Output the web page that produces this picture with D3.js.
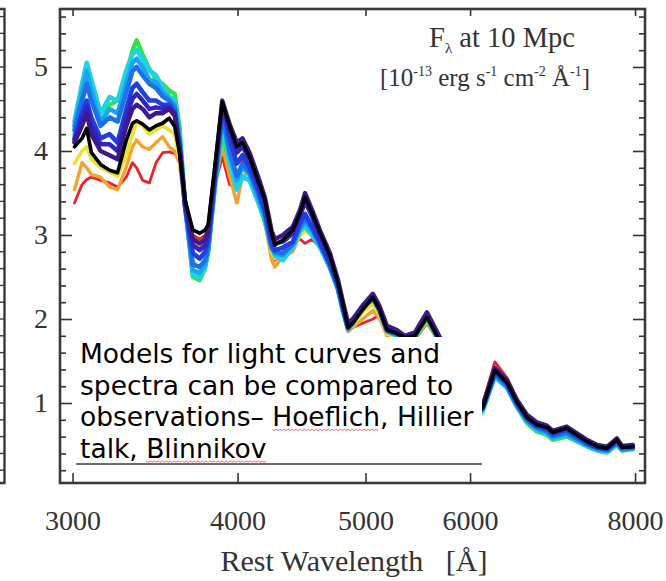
<!DOCTYPE html>
<html>
<head>
<meta charset="utf-8">
<title>Model spectra vs observation</title>
<script src="https://d3js.org/d3.v7.min.js"></script>
<style>
 body { margin: 0; background: #fff; }
 .serif { font-family: "Liberation Serif", "Times New Roman", serif; fill: #333; }
 .note { font-family: "DejaVu Sans", Verdana, sans-serif; fill: #000; }
</style>
</head>
<body>
<script>
var w = 666, h = 581;

// rest wavelength grid (Angstrom)
var wave = [3010,3050,3075,3100,3150,3200,3245,3295,3330,3355,
            3390,3430,3470,3510,3550,3585,3615,3650,3700,3745,
            3780,3800,3845,3895,3945,3995,4035,4085,4145,4195,
            4245,4270,4330,4405,4460,4500,4555,4620,4700,4765,
            4805,4850,4890,4975,5065,5125,5190,5280,5355,5450,
            5565,5710,5800,5900,6000,6080,6135,6265,6400,6510,
            6625,6740,6860,6930,7100,7230,7360,7490,7620,7750,
            7820,7970];

// observed spectrum (black)
var observed = [4.05,4.15,4.27,3.98,3.84,3.77,3.74,4.13,4.33,4.36,
                4.32,4.25,4.30,4.33,4.39,4.29,3.98,3.42,3.06,3.02,
                3.06,3.12,3.81,4.58,4.29,4.05,4.10,3.93,3.65,3.42,
                3.02,2.88,2.94,3.06,3.26,3.45,3.26,3.02,2.75,2.43,
                2.19,1.90,1.95,2.11,2.26,2.11,1.87,1.83,1.78,1.80,
                2.02,1.70,1.55,1.35,1.10,0.88,0.95,1.39,1.24,1.01,
                0.83,0.74,0.71,0.65,0.70,0.62,0.54,0.48,0.46,0.56,
                0.47,0.48];

// model spectra
var red = [3.38,3.60,3.66,3.69,3.65,3.62,3.57,3.69,3.86,3.80,
           3.65,3.62,3.86,3.98,3.99,3.97,3.88,3.38,3.00,2.95,
           3.00,3.08,3.60,3.93,3.60,3.55,3.90,3.80,3.50,3.20,
           2.80,2.70,2.80,2.90,2.95,2.90,2.95,2.85,2.60,2.35,
           2.10,1.85,1.90,1.95,2.00,2.05,1.80,1.78,1.72,1.75,
           1.95,1.68,1.55,1.36,1.12,0.92,1.00,1.49,1.30,1.05,
           0.84,0.75,0.72,0.66,0.70,0.62,0.54,0.48,0.46,0.55,
           0.47,0.48];
var orange = [3.54,3.86,3.80,3.72,3.69,3.57,3.54,3.81,4.05,4.13,
              4.05,4.02,4.10,4.17,4.05,4.00,3.85,3.35,2.95,2.85,
              2.90,3.00,3.65,4.05,3.70,3.38,3.70,3.75,3.45,3.15,
              2.70,2.62,2.75,2.80,3.00,3.05,3.00,2.85,2.60,2.35,
              2.10,1.85,1.90,2.00,2.10,2.00,1.80,1.78,1.72,1.76,
              1.97,1.68,1.54,1.34,1.10,0.89,0.96,1.42,1.26,1.02,
              0.83,0.74,0.71,0.65,0.69,0.61,0.53,0.48,0.45,0.54,
              0.46,0.47];
var yellow = [3.85,4.00,4.05,3.90,3.80,3.75,3.70,3.95,4.20,4.35,
              4.30,4.20,4.25,4.30,4.25,4.20,3.90,3.30,2.70,2.60,
              2.70,2.85,3.60,4.15,3.90,3.65,3.80,3.75,3.50,3.20,
              2.80,2.72,2.78,2.85,3.00,3.05,3.00,2.85,2.60,2.36,
              2.12,1.87,1.92,2.08,2.18,2.05,1.82,1.79,1.74,1.77,
              1.98,1.67,1.52,1.33,1.08,0.87,0.94,1.36,1.21,0.98,
              0.80,0.71,0.68,0.62,0.66,0.58,0.51,0.46,0.44,0.53,
              0.45,0.46];
var green = [4.20,4.60,4.85,4.70,4.45,4.55,4.60,4.90,5.20,5.32,
             5.15,4.98,4.85,4.80,4.72,4.68,4.30,3.40,2.50,2.46,
             2.60,2.80,3.55,4.20,3.85,3.55,3.70,3.65,3.40,3.15,
             2.85,2.79,2.75,2.85,3.05,3.10,3.00,2.85,2.60,2.35,
             2.10,1.88,1.95,2.15,2.23,2.10,1.85,1.80,1.74,1.78,
             2.00,1.66,1.50,1.30,1.05,0.84,0.90,1.33,1.18,0.95,
             0.76,0.66,0.62,0.56,0.60,0.54,0.48,0.43,0.41,0.50,
             0.43,0.45];
var cyan = [4.35,4.80,5.05,4.85,4.45,4.64,4.60,4.96,5.15,5.20,
            5.10,4.96,4.90,4.76,4.65,4.60,4.20,3.35,2.52,2.50,
            2.62,2.80,3.60,4.35,3.86,3.54,3.69,3.65,3.40,3.18,
            2.85,2.75,2.70,2.85,3.05,3.10,3.00,2.85,2.62,2.35,
            2.10,1.88,1.95,2.15,2.25,2.10,1.86,1.80,1.75,1.80,
            2.03,1.68,1.52,1.32,1.06,0.85,0.92,1.31,1.18,0.96,
            0.78,0.68,0.64,0.58,0.62,0.55,0.49,0.44,0.42,0.52,
            0.44,0.46];
var sky = [4.30,4.70,4.95,4.72,4.35,4.50,4.45,4.80,5.05,5.10,
           5.00,4.85,4.82,4.70,4.62,4.55,4.15,3.35,2.58,2.55,
           2.66,2.82,3.62,4.40,3.95,3.65,3.80,3.72,3.45,3.22,
           2.85,2.78,2.76,2.88,3.08,3.15,3.05,2.88,2.62,2.36,
           2.12,1.88,1.95,2.14,2.24,2.10,1.86,1.81,1.75,1.80,
           2.03,1.68,1.53,1.33,1.07,0.86,0.93,1.33,1.19,0.97,
           0.79,0.69,0.65,0.59,0.63,0.56,0.50,0.45,0.43,0.52,
           0.45,0.46];
var azure = [4.25,4.60,4.80,4.60,4.30,4.40,4.35,4.70,4.95,5.00,
             4.90,4.80,4.75,4.65,4.60,4.50,4.10,3.35,2.65,2.62,
             2.70,2.85,3.65,4.45,4.00,3.70,3.85,3.75,3.50,3.25,
             2.85,2.80,2.78,2.90,3.10,3.20,3.08,2.90,2.65,2.38,
             2.14,1.89,1.96,2.13,2.25,2.10,1.86,1.82,1.76,1.80,
             2.04,1.69,1.54,1.34,1.08,0.87,0.94,1.35,1.21,0.98,
             0.80,0.71,0.67,0.61,0.65,0.58,0.51,0.46,0.44,0.53,
             0.46,0.47];
var blue = [4.15,4.45,4.60,4.40,4.15,4.20,4.10,4.50,4.75,4.80,
            4.70,4.60,4.60,4.55,4.55,4.45,4.05,3.35,2.78,2.72,
            2.80,2.95,3.70,4.52,4.15,3.85,3.95,3.80,3.55,3.30,
            2.90,2.82,2.85,2.92,3.15,3.25,3.10,2.90,2.65,2.40,
            2.15,1.90,1.97,2.14,2.26,2.11,1.88,1.83,1.77,1.82,
            2.05,1.70,1.55,1.35,1.09,0.88,0.95,1.37,1.23,1.00,
            0.82,0.72,0.69,0.63,0.68,0.60,0.52,0.47,0.45,0.54,
            0.47,0.48];
var indigo = [4.12,4.38,4.52,4.30,4.08,4.08,4.00,4.40,4.62,4.68,
              4.60,4.50,4.52,4.50,4.52,4.44,4.05,3.38,2.88,2.82,
              2.88,3.00,3.74,4.56,4.25,3.98,4.05,3.90,3.62,3.38,
              2.98,2.90,2.92,3.02,3.22,3.40,3.22,2.98,2.72,2.44,
              2.18,1.92,1.98,2.14,2.28,2.13,1.90,1.85,1.79,1.83,
              2.06,1.72,1.57,1.37,1.11,0.89,0.96,1.40,1.25,1.02,
              0.84,0.75,0.72,0.66,0.71,0.63,0.55,0.49,0.47,0.57,
              0.48,0.49];
var purple = [4.10,4.30,4.45,4.20,4.00,3.95,3.90,4.30,4.50,4.55,
              4.50,4.40,4.45,4.45,4.50,4.42,4.05,3.40,2.95,2.90,
              2.95,3.05,3.78,4.60,4.32,4.10,4.15,3.98,3.70,3.45,
              3.05,2.95,3.00,3.10,3.30,3.50,3.30,3.05,2.78,2.47,
              2.22,1.95,2.00,2.16,2.30,2.15,1.92,1.87,1.80,1.84,
              2.08,1.74,1.58,1.38,1.12,0.90,0.97,1.42,1.27,1.04,
              0.86,0.77,0.73,0.67,0.72,0.64,0.56,0.50,0.48,0.58,
              0.49,0.50];

var xTicks = [3000, 4000, 5000, 6000, 8000];
var yTicks = [1, 2, 3, 4, 5];

var noteLines = ["Models for light curves and",
                 "spectra can be compared to",
                 "observations\u2013 Hoeflich, Hillier",
                 "talk, Blinnikov"];
var misspelt = [[2, "Hoeflich"], [3, "Blinnikov"]];

var series = [
  {color: "#e8232b", values: red, width: 2.8},
  {color: "#f7a22e", values: orange, width: 3.4},
  {color: "#e9e235", values: yellow, width: 3.6},
  {color: "#33e046", values: green, width: 4.2},
  {color: "#1fd3e4", values: cyan, width: 4.6},
  {color: "#1aa5ef", values: sky, width: 4.6},
  {color: "#1b72e8", values: azure, width: 4.6},
  {color: "#1f3fe0", values: blue, width: 4.6},
  {color: "#3322c4", values: indigo, width: 4.4},
  {color: "#3c1a8c", values: purple, width: 4.4},
  {color: "#000000", values: observed, width: 3.6}
];

var frame = {left: 60, right: 645, top: 9, bottom: 483};

var svg = d3.select("body").append("svg")
            .attr("width", w)
            .attr("height", h);

var x = d3.scaleLog()
          .domain([2935, 8140])
          .range([frame.left, frame.right]);
var y = d3.scaleLinear()
          .domain([0.048, 5.69])
          .range([frame.bottom, frame.top]);

// spectra
var line = d3.line()
             .x(function(d, i) { return x(wave[i]); })
             .y(function(d) { return y(d); });

svg.append("g").selectAll("path")
   .data(series)
   .enter()
   .append("path")
   .attr("d", function(d) { return line(d.values); })
   .attr("fill", "none")
   .attr("stroke", function(d) { return d.color; })
   .attr("stroke-width", function(d) { return d.width; })
   .attr("stroke-linejoin", "round")
   .attr("stroke-linecap", "round");

// axes
var minor = d3.range(0.2, 5.7, 0.2).filter(function(v) {
  return Math.abs(v - Math.round(v)) > 0.05;
});

function styleAxis(g) {
  g.select(".domain").remove();
  g.selectAll(".tick line").attr("stroke", "#333").attr("stroke-width", 1.6);
  g.selectAll(".tick text").attr("class", "serif").attr("font-size", 28).attr("fill", "#333");
}

svg.append("g")
   .attr("transform", "translate(" + frame.left + ",0)")
   .call(d3.axisLeft(y).tickValues(yTicks).tickSize(-12).tickPadding(12).tickFormat(d3.format("d")))
   .call(styleAxis)
   .attr("font-family", null);
svg.append("g")
   .attr("transform", "translate(" + frame.left + ",0)")
   .call(d3.axisLeft(y).tickValues(minor).tickSize(-6).tickFormat(""))
   .call(styleAxis);
svg.append("g")
   .attr("transform", "translate(" + frame.right + ",0)")
   .call(d3.axisRight(y).tickValues(yTicks).tickSize(-12).tickFormat(""))
   .call(styleAxis);
svg.append("g")
   .attr("transform", "translate(" + frame.right + ",0)")
   .call(d3.axisRight(y).tickValues(minor).tickSize(-6).tickFormat(""))
   .call(styleAxis);
svg.append("g")
   .attr("transform", "translate(0," + frame.bottom + ")")
   .call(d3.axisBottom(x).tickValues(xTicks).tickSize(-10).tickPadding(27).tickFormat(d3.format("d")))
   .call(styleAxis)
   .attr("font-family", null);
svg.append("g")
   .attr("transform", "translate(0," + frame.top + ")")
   .call(d3.axisTop(x).tickValues(xTicks).tickSize(-7).tickFormat(""))
   .call(styleAxis);

svg.append("rect")
   .attr("x", frame.left)
   .attr("y", frame.top)
   .attr("width", frame.right - frame.left)
   .attr("height", frame.bottom - frame.top)
   .attr("fill", "none")
   .attr("stroke", "#3a3a3a")
   .attr("stroke-width", 2.6);

// edge of the neighbouring panel on the left
var edge = svg.append("g");
edge.append("path")
    .attr("d", "M0," + frame.top + "H4.5V" + frame.bottom + "H0")
    .attr("fill", "none")
    .attr("stroke", "#3a3a3a")
    .attr("stroke-width", 2.4);
edge.selectAll("line")
    .data(minor.concat(yTicks))
    .enter()
    .append("line")
    .attr("x1", 0).attr("x2", 4.5)
    .attr("y1", function(d) { return y(d); })
    .attr("y2", function(d) { return y(d); })
    .attr("stroke", "#3a3a3a")
    .attr("stroke-width", 1.4);

// axis title
svg.append("text")
   .attr("class", "serif")
   .attr("x", 354)
   .attr("y", 571)
   .attr("text-anchor", "middle")
   .attr("font-size", 30)
   .style("white-space", "pre")
   .text("Rest Wavelength   [\u00c5]");

// flux annotation
var f1 = svg.append("text")
   .attr("class", "serif")
   .attr("x", 502)
   .attr("y", 47)
   .attr("text-anchor", "middle")
   .attr("font-size", 28.5);
f1.append("tspan").text("F");
f1.append("tspan").attr("font-size", 15).attr("dy", 6).text("\u03bb");
f1.append("tspan").attr("dy", -6).text(" at 10 Mpc");

var f2 = svg.append("text")
   .attr("class", "serif")
   .attr("x", 485)
   .attr("y", 86)
   .attr("text-anchor", "middle")
   .attr("font-size", 25);
[["[10", 0], ["-13", 1], [" erg s", 0], ["-1", 1], [" cm", 0], ["-2", 1], [" \u00c5", 0], ["-1", 1], ["]", 0]]
  .forEach(function(p, i, arr) {
    var prevSup = i > 0 && arr[i - 1][1];
    var t = f2.append("tspan").text(p[0]);
    if (p[1]) t.attr("font-size", 14).attr("dy", -10);
    else if (prevSup) t.attr("dy", 10);
  });

// note box laid over the plot
svg.append("rect")
   .attr("x", 75).attr("y", 337)
   .attr("width", 407).attr("height", 126)
   .attr("fill", "#fff");
svg.append("line")
   .attr("x1", 76).attr("x2", 482)
   .attr("y1", 464).attr("y2", 464)
   .attr("stroke", "#6b6e78")
   .attr("stroke-width", 2);

var noteText = svg.append("g").selectAll("text")
   .data(noteLines)
   .enter()
   .append("text")
   .attr("class", "note")
   .attr("x", 80)
   .attr("y", function(d, i) { return 363 + i * 31.7; })
   .attr("font-size", 26.5)
   .text(function(d) { return d; });

// spell-check squiggles
misspelt.forEach(function(m) {
  var node = noteText.nodes()[m[0]];
  var idx = noteLines[m[0]].indexOf(m[1]);
  var x0 = 80 + node.getSubStringLength(0, idx);
  var x1 = x0 + node.getSubStringLength(idx, m[1].length);
  var yy = 363 + m[0] * 31.7 + 3;
  var d = "M" + x0 + "," + yy;
  for (var xx = x0 + 2, k = 1; xx <= x1; xx += 2, k++) {
    d += "L" + xx + "," + (yy + (k % 2 ? 1.2 : -0.2));
  }
  svg.append("path")
     .attr("d", d)
     .attr("fill", "none")
     .attr("stroke", "#e2596a")
     .attr("stroke-width", 0.9);
});
</script>
</body>
</html>
